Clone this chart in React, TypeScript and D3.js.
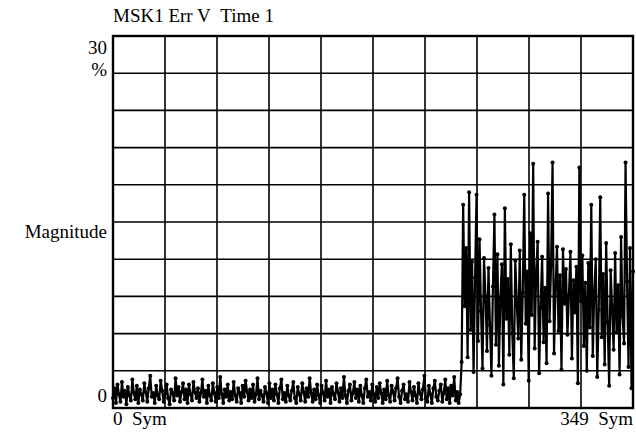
import * as d3 from "d3";

// error vector magnitude, % — symbols 0..233 (before the burst)
const lowErr: number[] = [
  0.8, 1.6, 0.4, 1.9, 1.1, 0.5, 2.1, 0.9, 1.4, 0.3, 1.7, 1.0, 0.6, 2.3, 1.2, 0.7, 1.8, 0.4, 1.5, 1.1,
  0.6, 2.0, 1.3, 0.5, 1.6, 2.6, 0.9, 1.2, 0.4, 1.8, 1.0, 0.7, 2.2, 1.4, 0.5, 1.1, 1.9, 0.8, 0.3, 1.5,
  1.2, 0.6, 2.4, 1.0, 1.7, 0.5, 1.3, 2.0, 0.7, 1.5, 0.4, 1.9, 1.1, 0.6, 2.1, 1.3, 0.8, 1.6, 0.5, 1.2,
  2.3, 0.9, 1.4, 0.4, 1.8, 1.0, 0.6, 2.0, 1.2, 0.5, 1.7, 0.8, 2.5, 1.1, 0.4, 1.5, 0.9, 1.9, 0.6, 1.3,
  0.7, 2.1, 1.0, 0.5, 1.6, 1.2, 0.4, 1.8, 0.9, 2.2, 1.3, 0.6, 1.5, 0.8, 1.9, 0.5, 1.1, 2.4, 0.7, 1.4,
  1.0, 0.5, 1.7, 1.2, 0.4, 2.0, 0.8, 1.5, 0.6, 1.9, 1.1, 0.4, 1.6, 2.3, 0.7, 1.2, 0.5, 1.8, 1.0, 0.6,
  1.4, 2.1, 0.8, 0.4, 1.7, 1.1, 0.6, 2.0, 1.3, 0.5, 1.6, 0.9, 2.4, 1.2, 0.5, 1.5, 0.7, 1.9, 1.0, 0.4,
  1.8, 1.2, 0.6, 2.2, 0.9, 1.5, 0.4, 1.7, 1.1, 0.7, 2.0, 1.3, 0.5, 1.6, 0.8, 2.5, 1.0, 0.4, 1.4, 1.9,
  0.6, 1.2, 2.1, 0.8, 1.5, 0.5, 1.8, 1.0, 0.4, 1.6, 2.3, 0.9, 1.3, 0.6, 1.9, 1.1, 0.5, 1.7, 0.8, 2.0,
  1.2, 0.4, 1.5, 0.7, 2.2, 1.0, 0.5, 1.8, 1.3, 0.6, 1.6, 2.4, 0.9, 0.4, 1.4, 1.9, 0.7, 1.1, 0.5, 2.1,
  1.3, 0.6, 1.7, 1.0, 0.4, 2.0, 1.2, 0.7, 1.5, 2.6, 0.8, 0.5, 1.8, 1.1, 0.4, 1.6, 2.2, 0.9, 0.6, 1.4,
  1.9, 0.5, 1.2, 2.3, 0.7, 1.6, 0.4, 1.8, 1.0, 2.5, 0.6, 1.3, 0.4, 1.1,
];

// symbols 234..349 (burst)
const highErr: number[] = [
  3.7, 16.4, 8.2, 12.9, 4.1, 17.4, 6.3, 11.8, 2.9, 10.5, 17.2, 5.4, 13.6, 7.8, 3.2, 12.1, 9.0, 4.6, 11.3, 6.7,
  2.6, 9.8, 15.6, 5.1, 12.4, 3.4, 8.9, 11.6, 1.9, 16.1, 7.2, 10.4, 4.3, 13.2, 6.0, 2.4, 11.9, 8.5, 5.6, 12.7,
  3.9, 9.3, 17.2, 6.8, 11.0, 2.2, 14.1, 7.5, 19.7, 4.8, 10.9, 13.4, 2.8, 8.1, 12.2, 5.3, 9.7, 3.6, 17.3, 7.0,
  11.5, 19.8, 4.4, 9.6, 13.0, 6.2, 10.7, 3.1, 12.8, 8.4, 11.2, 5.9, 9.1, 12.6, 4.0, 10.3, 7.7, 11.4, 2.0, 19.4,
  8.6, 12.3, 5.0, 10.1, 3.0, 11.7, 6.5, 16.4, 4.2, 9.4, 12.0, 2.5, 7.9, 17.0, 5.7, 10.8, 3.5, 13.3, 6.9, 1.8,
  11.1, 8.0, 4.7, 12.5, 6.1, 9.9, 2.7, 13.8, 7.4, 5.2, 19.8, 10.2, 3.3, 12.9, 1.6, 11.0,
];

const magnitude = [...lowErr, ...highErr];
const symIndex = magnitude.map((_, i) => i);

const title = "MSK1 Err V  Time 1";
const yTopLabel = "30";
const yUnit = "%";
const yBottomLabel = "0";
const yName = "Magnitude";
const xStartLabel = "0  Sym";
const xEndLabel = "349  Sym";

export default function App() {
  const width = 636;
  const height = 432;
  const left = 113;
  const right = 633;
  const top = 36;
  const bottom = 408;
  const font = "'Liberation Serif', 'DejaVu Serif', 'Noto Serif', Tinos, Times, 'Times New Roman', serif";

  const x = d3.scaleLinear().domain([0, 349]).range([left, right]);
  const y = d3.scaleLinear().domain([0, 30]).range([bottom, top]);

  const line = d3
    .line<number>()
    .x((d, i) => x(symIndex[i]))
    .y((d) => y(d));

  // 10 x 10 graticule
  const xGrid = d3.range(11).map((k) => (349 / 10) * k);
  const yGrid = d3.range(0, 31, 3);

  const pre = (s: string) => s.replace(/ {2}/g, "\u00a0\u00a0");

  return (
    <svg
      width={width}
      height={height}
      style={{ position: "absolute", left: 0, top: 0, background: "#fff" }}
    >
      <rect x={0} y={0} width={width} height={height} fill="#fff" />

      {/* grid */}
      <g stroke="#000" strokeWidth={1.6}>
        {xGrid.map((d, i) => (
          <line key={"x" + i} x1={x(d)} x2={x(d)} y1={top} y2={bottom} />
        ))}
        {yGrid.map((d, i) => (
          <line key={"y" + i} x1={left} x2={right} y1={y(d)} y2={y(d)} />
        ))}
      </g>

      {/* trace */}
      <path d={line(magnitude) ?? ""} fill="none" stroke="#000" strokeWidth={2.2} strokeLinejoin="round" />
      <g fill="#000">
        {magnitude.map((d, i) => (
          <circle key={i} cx={x(symIndex[i])} cy={y(d)} r={2} />
        ))}
      </g>

      {/* frame */}
      <rect x={left} y={top} width={right - left} height={bottom - top} fill="none" stroke="#000" strokeWidth={2.4} />

      {/* labels */}
      <g fill="#000" style={{ fontFamily: font, fontSize: "19px" }}>
        <text x={left} y={22}>{pre(title)}</text>
        <text x={107} y={54} textAnchor="end">{yTopLabel}</text>
        <text x={107} y={76} textAnchor="end">{yUnit}</text>
        <text x={107} y={238} textAnchor="end">{yName}</text>
        <text x={107} y={402} textAnchor="end">{yBottomLabel}</text>
        <text x={left} y={425}>{pre(xStartLabel)}</text>
        <text x={right} y={425} textAnchor="end">{pre(xEndLabel)}</text>
      </g>
    </svg>
  );
}
